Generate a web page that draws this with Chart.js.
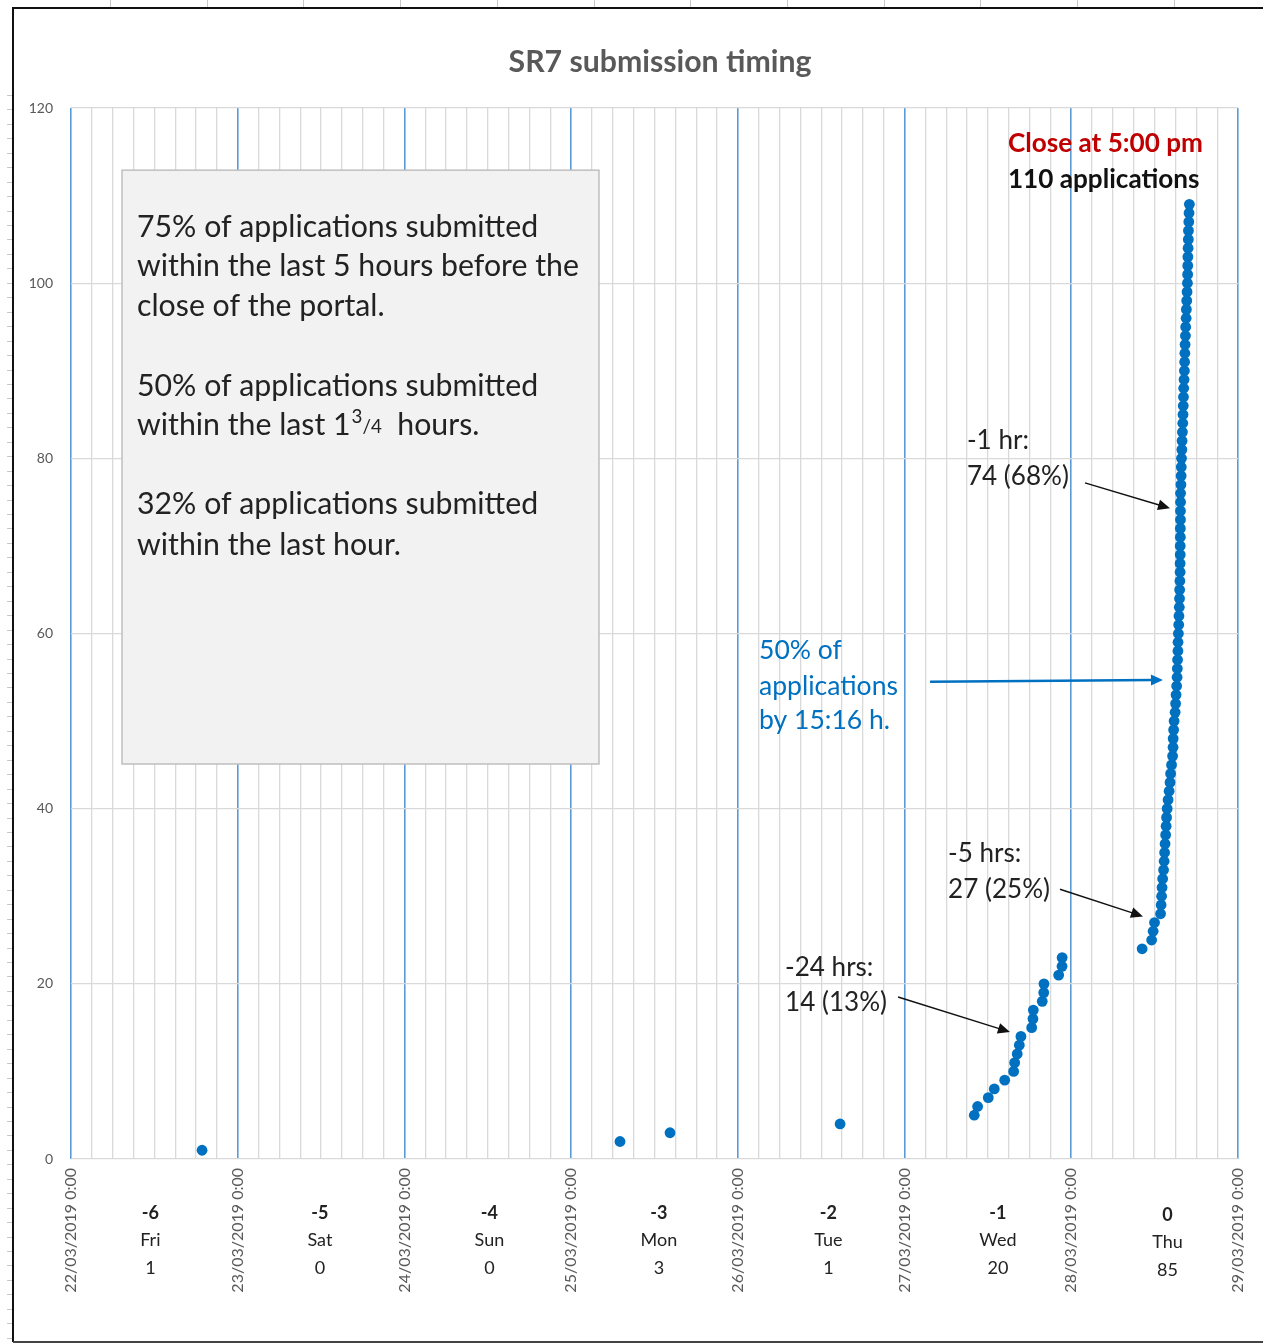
<!DOCTYPE html>
<html>
<head>
<meta charset="utf-8">
<script src="https://cdn.jsdelivr.net/npm/chart.js@4.4.0/dist/chart.umd.min.js"></script>
<style>
body { margin: 0; background: #fff; }
canvas { display: block; }
</style>
</head>
<body>
<canvas id="chart" width="1263" height="1344"></canvas>
<script>
// submission time (dd/mm hh:mm, March 2019) and cumulative number of applications
var subTimes = [
  "22/03 18:52", "25/03 07:02", "25/03 14:14", "26/03 14:43",
  "27/03 10:02", "27/03 10:31", "27/03 12:03", "27/03 12:55", "27/03 14:25",
  "27/03 15:42", "27/03 15:51", "27/03 16:13", "27/03 16:31", "27/03 16:45",
  "27/03 18:18", "27/03 18:29", "27/03 18:32", "27/03 19:49", "27/03 20:02",
  "27/03 20:04", "27/03 22:11", "27/03 22:40", "27/03 22:41",
  "28/03 10:12", "28/03 11:34", "28/03 11:47", "28/03 11:59", "28/03 12:51",
  "28/03 12:56", "28/03 13:00", "28/03 13:04", "28/03 13:09", "28/03 13:17",
  "28/03 13:22", "28/03 13:26", "28/03 13:30", "28/03 13:35", "28/03 13:39",
  "28/03 13:43", "28/03 13:48", "28/03 13:56", "28/03 14:05", "28/03 14:13",
  "28/03 14:18", "28/03 14:26", "28/03 14:35", "28/03 14:39", "28/03 14:40",
  "28/03 14:44", "28/03 14:48", "28/03 14:57", "28/03 15:01", "28/03 15:05",
  "28/03 15:10", "28/03 15:14", "28/03 15:16", "28/03 15:18", "28/03 15:21",
  "28/03 15:22", "28/03 15:25", "28/03 15:28", "28/03 15:30", "28/03 15:33",
  "28/03 15:35", "28/03 15:36", "28/03 15:38", "28/03 15:40", "28/03 15:40",
  "28/03 15:41", "28/03 15:41", "28/03 15:42", "28/03 15:42", "28/03 15:43",
  "28/03 15:43", "28/03 15:44", "28/03 15:44", "28/03 15:47", "28/03 15:49",
  "28/03 15:50", "28/03 15:52", "28/03 15:55", "28/03 15:57", "28/03 16:00",
  "28/03 16:03", "28/03 16:05", "28/03 16:07", "28/03 16:09", "28/03 16:11",
  "28/03 16:14", "28/03 16:17", "28/03 16:19", "28/03 16:21", "28/03 16:23",
  "28/03 16:26", "28/03 16:28", "28/03 16:32", "28/03 16:34", "28/03 16:37",
  "28/03 16:40", "28/03 16:43", "28/03 16:45", "28/03 16:46", "28/03 16:47",
  "28/03 16:49", "28/03 16:51", "28/03 16:52", "28/03 16:55", "28/03 16:57",
  "28/03 17:00"
];
var subCount = [
  1, 2, 3, 4,
  5, 6, 7, 8, 9, 10, 11, 12, 13, 14, 15, 16, 17, 18, 19, 20, 21, 22, 23,
  24, 25, 26, 27, 28, 29, 30, 31, 32, 33, 34, 35, 36, 37, 38, 39, 40,
  41, 42, 43, 44, 45, 46, 47, 48, 49, 50, 51, 52, 53, 54, 55, 56, 57, 58, 59, 60,
  61, 62, 63, 64, 65, 66, 67, 68, 69, 70, 71, 72, 73, 74, 75, 76, 77, 78, 79, 80,
  81, 82, 83, 84, 85, 86, 87, 88, 89, 90, 91, 92, 93, 94, 95, 96, 97, 98, 99, 100,
  101, 102, 103, 104, 105, 106, 107, 108, 109
];

// x axis: one tick per day boundary, 3-hour minor gridlines
var dayTicks = ["22/03/2019 0:00", "23/03/2019 0:00", "24/03/2019 0:00", "25/03/2019 0:00",
                "26/03/2019 0:00", "27/03/2019 0:00", "28/03/2019 0:00", "29/03/2019 0:00"];
var dayOffset = ["-6", "-5", "-4", "-3", "-2", "-1", "0"];
var dayNames = ["Fri", "Sat", "Sun", "Mon", "Tue", "Wed", "Thu"];
var dayTotals = ["1", "0", "0", "3", "1", "20", "85"];

var FONT = "Lato, 'Open Sans', sans-serif";

function toDays(s) {
    var p = s.split(/[\/ :]/);
    return (+p[0] - 22) + (+p[2] * 60 + +p[3]) / 1440;
}
function isWhole(v) { return Math.abs(v - Math.round(v)) < 1e-6; }

var points = [];
for (var i = 0; i < subTimes.length; i++) {
    points.push({ x: toDays(subTimes[i]), y: subCount[i] });
}

// size a font so a piece of text takes a given width
function fitSize(ctx, text, weight, target) {
    ctx.font = weight + " 100px " + FONT;
    return 100 * target / ctx.measureText(text).width;
}

function arrow(ctx, x1, y1, x2, y2, color, w, head) {
    var a = Math.atan2(y2 - y1, x2 - x1);
    ctx.save();
    ctx.strokeStyle = color;
    ctx.fillStyle = color;
    ctx.lineWidth = w;
    ctx.beginPath();
    ctx.moveTo(x1, y1);
    ctx.lineTo(x2 - Math.cos(a) * head * 0.8, y2 - Math.sin(a) * head * 0.8);
    ctx.stroke();
    ctx.beginPath();
    ctx.moveTo(x2, y2);
    ctx.lineTo(x2 - head * Math.cos(a) + head * 0.45 * Math.sin(a), y2 - head * Math.sin(a) - head * 0.45 * Math.cos(a));
    ctx.lineTo(x2 - head * Math.cos(a) - head * 0.45 * Math.sin(a), y2 - head * Math.sin(a) + head * 0.45 * Math.cos(a));
    ctx.closePath();
    ctx.fill();
    ctx.restore();
}

var frame = {
    id: "frame",
    beforeDraw: function(chart) {
        var ctx = chart.ctx;
        ctx.save();
        ctx.fillStyle = "#fff";
        ctx.fillRect(0, 0, chart.width, chart.height);
        // ruler marks of the sheet
        ctx.strokeStyle = "#c8c8c8";
        ctx.lineWidth = 1;
        for (var x = 110; x < chart.width; x += 96.7) {
            ctx.beginPath(); ctx.moveTo(Math.round(x) + 0.5, 0); ctx.lineTo(Math.round(x) + 0.5, 7); ctx.stroke();
        }
        for (var y = 95; y < chart.height - 4; y += 14.45) {
            ctx.beginPath(); ctx.moveTo(7, Math.round(y) + 0.5); ctx.lineTo(12, Math.round(y) + 0.5); ctx.stroke();
        }
        ctx.strokeStyle = "#111";
        ctx.lineWidth = 2;
        ctx.beginPath();
        ctx.moveTo(chart.width, 8);
        ctx.lineTo(13, 8);
        ctx.lineTo(13, 1342);
        ctx.stroke();
        ctx.strokeStyle = "#444";
        ctx.beginPath();
        ctx.moveTo(13, 1342);
        ctx.lineTo(chart.width, 1342);
        ctx.stroke();
        ctx.restore();
    },
    afterDraw: function(chart) {
        var ctx = chart.ctx;
        var xs = chart.scales.x, ys = chart.scales.y;
        var area = chart.chartArea;
        function px(v) { return xs.getPixelForValue(v); }
        function py(v) { return ys.getPixelForValue(v); }
        ctx.save();
        ctx.textBaseline = "middle";

        // title
        var ts = fitSize(ctx, "SR7 submission timing", "bold", 303);
        ctx.font = "bold " + ts + "px " + FONT;
        ctx.fillStyle = "#595959";
        ctx.textAlign = "center";
        ctx.fillText("SR7 submission timing", 660, 62);

        // day labels under the axis
        for (var d = 0; d < dayNames.length; d++) {
            var cx = px(d + 0.5) - 4 + d * 2.8;
            var dy = d === 6 ? 2 : 0;
            ctx.fillStyle = "#222";
            ctx.font = "bold 18px " + FONT;
            ctx.fillText(dayOffset[d], cx, area.bottom + 54 + dy);
            ctx.font = "18px " + FONT;
            ctx.fillText(dayNames[d], cx, area.bottom + 81 + dy);
            ctx.fillText(dayTotals[d], cx, area.bottom + 109 + dy);
        }

        // summary box
        var bx1 = px(0.306), bx2 = px(3.167), by1 = py(112.9), by2 = py(45.1);
        ctx.fillStyle = "#f2f2f2";
        ctx.fillRect(bx1, by1, bx2 - bx1, by2 - by1);
        ctx.strokeStyle = "#bfbfbf";
        ctx.lineWidth = 1.5;
        ctx.strokeRect(bx1, by1, bx2 - bx1, by2 - by1);
        var bs = fitSize(ctx, "within the last 5 hours before the", "normal", 442);
        ctx.font = bs + "px " + FONT;
        ctx.fillStyle = "#222";
        ctx.textAlign = "left";
        var tx = bx1 + 15, ty = by1 + 57;
        ctx.fillText("75% of applications submitted", tx, ty);
        ctx.fillText("within the last 5 hours before the", tx, ty + 39.5);
        ctx.fillText("close of the portal.", tx, ty + 79);
        ctx.fillText("50% of applications submitted", tx, ty + 159);
        var lx = tx, ly = ty + 198;
        ctx.fillText("within the last 1", lx, ly);
        lx += ctx.measureText("within the last 1").width;
        ctx.font = (bs * 0.62) + "px " + FONT;
        ctx.fillText("3", lx + 1, ly - bs * 0.28);
        lx += ctx.measureText("3").width + 1;
        ctx.fillText("/4", lx, ly + 2);
        lx += ctx.measureText("/4").width;
        ctx.font = bs + "px " + FONT;
        ctx.fillText("  hours.", lx, ly);
        ctx.fillText("32% of applications submitted", tx, ty + 277);
        ctx.fillText("within the last hour.", tx, ty + 318);

        // callouts
        var cs = fitSize(ctx, "74 (68%)", "normal", 102);
        ctx.font = cs + "px " + FONT;
        ctx.fillStyle = "#222";
        ctx.fillText("-1 hr:", px(5.374), py(82.0));
        ctx.fillText("74 (68%)", px(5.374), py(82.0) + 36);
        arrow(ctx, px(6.082), py(77.2), px(6.592), py(74.3), "#111", 1.4, 12);
        ctx.fillText("-5 hrs:", px(5.261), py(34.9));
        ctx.fillText("27 (25%)", px(5.261), py(34.9) + 36);
        arrow(ctx, px(5.932), py(30.8), px(6.430), py(27.7), "#111", 1.4, 12);
        ctx.fillText("-24 hrs:", px(4.283), py(21.8));
        ctx.fillText("14 (13%)", px(4.283), py(21.8) + 35);
        arrow(ctx, px(4.961), py(18.5), px(5.632), py(14.5), "#111", 1.4, 12);

        var ns = fitSize(ctx, "applications", "normal", 139);
        ctx.font = ns + "px " + FONT;
        ctx.fillStyle = "#0070C0";
        ctx.fillText("50% of", px(4.127), py(58.1));
        ctx.fillText("applications", px(4.127), py(58.1) + 36);
        ctx.fillText("by 15:16 h.", px(4.127), py(58.1) + 70);
        arrow(ctx, px(5.153), py(54.5), px(6.550), py(54.7), "#0070C0", 2.5, 12);

        var ks = fitSize(ctx, "Close at 5:00 pm", "bold", 195);
        ctx.font = "bold " + ks + "px " + FONT;
        ctx.fillStyle = "#C00000";
        ctx.fillText("Close at 5:00 pm", px(5.620), py(115.9));
        ctx.fillStyle = "#111";
        ctx.fillText("110 applications", px(5.620), py(111.8));
        ctx.restore();
    }
};

new Chart(document.getElementById("chart"), {
    type: "scatter",
    data: {
        datasets: [{
            label: "Applications",
            data: points,
            backgroundColor: "#0070C0",
            borderWidth: 0,
            pointRadius: 5.4,
            pointHoverRadius: 5.4
        }]
    },
    options: {
        responsive: false,
        animation: false,
        events: [],
        layout: { padding: { top: 108, right: 25, bottom: 0, left: 20 } },
        plugins: { legend: { display: false }, tooltip: { enabled: false } },
        scales: {
            x: {
                type: "linear",
                min: 0,
                max: 7,
                afterFit: function(scale) {
                    scale.height = 185;
                    scale.paddingLeft = 0;
                    scale.paddingRight = 0;
                },
                border: { display: false },
                grid: {
                    drawTicks: false,
                    color: function(c) { return isWhole(c.tick.value) ? "#5B9BD5" : "#D9D9D9"; },
                    lineWidth: function(c) { return isWhole(c.tick.value) ? 1.6 : 1.3; }
                },
                ticks: {
                    stepSize: 0.125,
                    autoSkip: false,
                    minRotation: 90,
                    maxRotation: 90,
                    padding: 9,
                    color: "#595959",
                    font: { family: FONT, size: 16 },
                    callback: function(v) { return isWhole(v) ? dayTicks[Math.round(v)] : ""; }
                }
            },
            y: {
                min: 0,
                max: 120,
                afterFit: function(scale) { scale.width = 51; },
                border: { display: false },
                grid: { drawTicks: false, color: "#D9D9D9", lineWidth: 1.3 },
                ticks: {
                    stepSize: 20,
                    padding: 18,
                    color: "#595959",
                    font: { family: FONT, size: 14 }
                }
            }
        }
    },
    plugins: [frame]
});
</script>
</body>
</html>
